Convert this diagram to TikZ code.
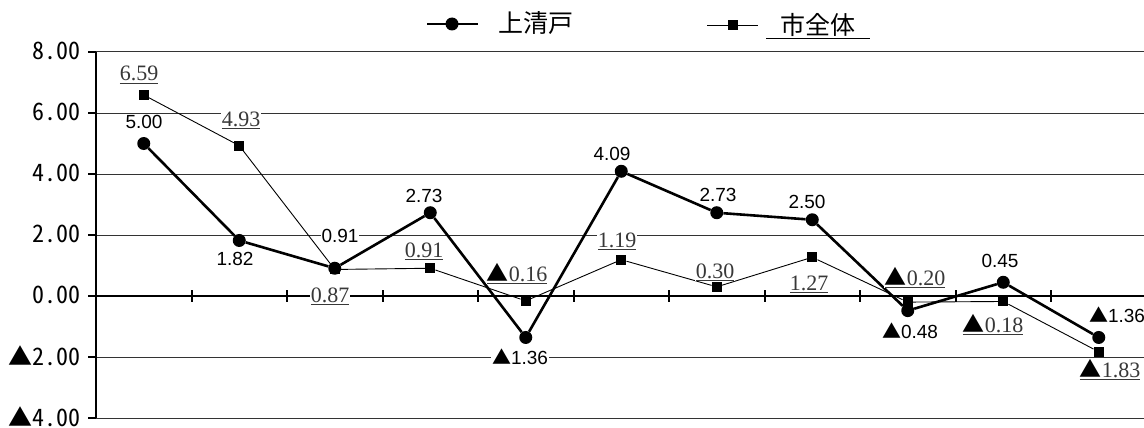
\documentclass[tikz,border=0pt]{standalone}
\usepackage{fontspec}
\setmainfont{Liberation Serif}
\setsansfont{Liberation Sans}
\newfontfamily\jpfont{Noto Sans CJK JP}
\newfontfamily\jpmono{Noto Sans CJK JP}[RawFeature=+hwid]
\newcommand{\mytri}{{\color{black}\jpfont ▲}}
\usetikzlibrary{positioning}
\definecolor{labelgray}{HTML}{383838}

\begin{document}
\begin{tikzpicture}[x=1pt, y=-1pt,
  grid/.style={black!80, line width=1pt},
  axis/.style={black, line width=2.4pt},
  tick/.style={black, line width=2pt},
  kamiline/.style={black, line width=2.6pt},
  cityline/.style={black, line width=0.9pt},
  dot/.style={circle, fill=black, inner sep=0pt, minimum size=13pt},
  sq/.style={rectangle, fill=black, inner sep=0pt, minimum size=10pt},
  kamilabel/.style={fill=white, inner sep=1pt, font=\sffamily\fontsize{19}{21}\selectfont},
  citylabel/.style={fill=white, inner sep=1pt, anchor=base, text=labelgray, font=\rmfamily\fontsize{22}{24}\selectfont},
  ylabel/.style={anchor=east, inner sep=0pt, font=\jpmono\fontsize{24}{26}\selectfont},
  legendtext/.style={font=\jpfont\fontsize{25}{27}\selectfont}]
\useasboundingbox (0,0) rectangle (1144,428);
% grid lines
\foreach \v in {8,6,4,2,-2,-4}
  \draw[grid] (96,{296-30.5*\v}) -- (1150,{296-30.5*\v});
% axes and ticks
\draw[axis] (96,296) -- (1150,296);
\draw[axis] (96,52) -- (96,418);
\foreach \v in {8,6,...,-4}
  \draw[tick] (88,{296-30.5*\v}) -- (96,{296-30.5*\v});
\foreach \k in {1,...,10}
  \draw[tick] ({96+95.5*\k},290) -- ({96+95.5*\k},302);
% axis labels
\foreach \v/\lab [count=\i] in {8/8.00, 6/6.00, 4/4.00, 2/2.00, 0/0.00, -2/▲2.00, -4/▲4.00}
  \node[ylabel] (ylab\i) at (81,{295-30.5*\v}) {\lab};
% markers
\foreach \v [count=\i] in {6.59,4.93,0.87,0.91,-0.16,1.19,0.30,1.27,-0.20,-0.18,-1.83}
  \node[sq] (s\i) at ({96+95.5*(\i-0.5)},{296-30.5*\v}) {};
\foreach \v [count=\i] in {5.00,1.82,0.91,2.73,-1.36,4.09,2.73,2.50,-0.48,0.45,-1.36}
  \node[dot] (k\i) at ({96+95.5*(\i-0.5)},{296-30.5*\v}) {};
% series lines
\foreach \i [remember=\i as \j (initially 1)] in {2,...,11} {
  \draw[cityline] (s\j) -- (s\i);
  \draw[kamiline] (k\j) -- (k\i);
}
% data labels
\foreach \lab/\x/\y [count=\i] in {6.59/139/81, 4.93/241/126, 0.87/330/302, 0.91/424/257, \mytri 0.16/517/281, 1.19/617/247, 0.30/715/278, 1.27/809/290, \mytri 0.20/915/285, \mytri 0.18/993/332, \mytri 1.83/1110/377}
  \node[citylabel] (sl\i) at (\x,\y) {\underline{\lab}};
\foreach \lab/\x/\y [count=\i] in {5.00/144/122, 1.82/235/259, 0.91/340/236, 2.73/424/196, \mytri 1.36/520/357, 4.09/612/154, 2.73/718/195, 2.50/807/202, \mytri 0.48/910/331, 0.45/1000/261, \mytri 1.36/1117/315}
  \node[kamilabel] (kl\i) at (\x,\y) {\lab};
% legend
\coordinate (kleg1) at (427,24);
\coordinate (kleg2) at (478,24);
\draw[kamiline] (kleg1) -- (kleg2);
\node[dot] (klegdot) at (452,24) {};
\node[legendtext] (klegname) at (536,23) {上清戸};
\coordinate (sleg1) at (707,25);
\coordinate (sleg2) at (758,25);
\draw[cityline] (sleg1) -- (sleg2);
\node[sq] (slegsq) at (733,25) {};
\node[legendtext] (slegname) at (818,26) {\underline{\hspace{14pt}市全体\hspace{15pt}}};
\end{tikzpicture}
\end{document}
